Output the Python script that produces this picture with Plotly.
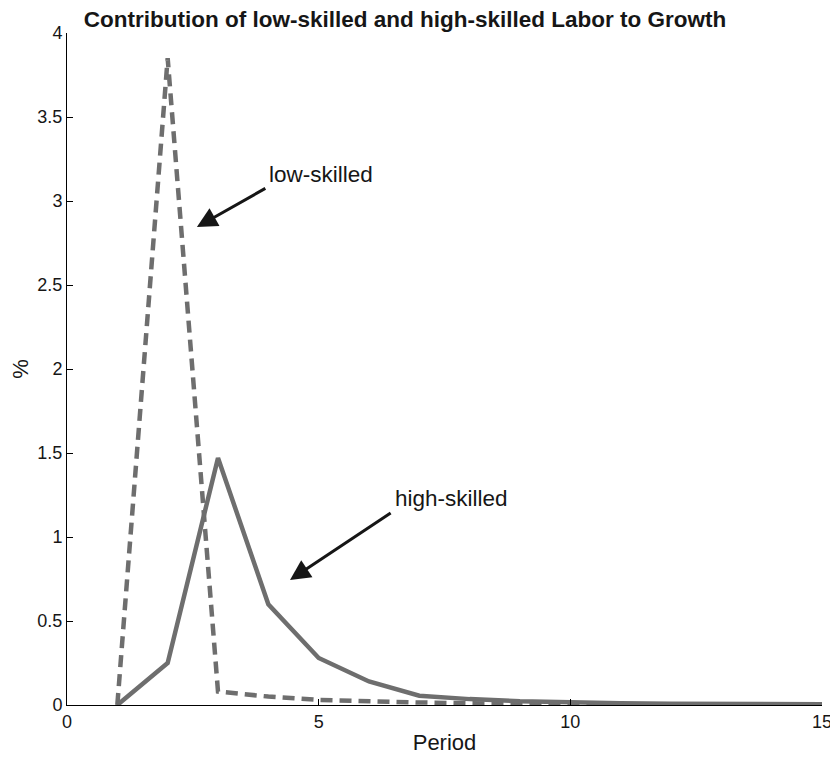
import plotly.graph_objects as go

period = list(range(1, 16))
low_skilled = [0.0, 3.85, 0.08, 0.05, 0.03, 0.02, 0.015, 0.01, 0.006, 0.004, 0.003, 0.002, 0.001, 0.001, 0.0]
high_skilled = [0.0, 0.25, 1.47, 0.60, 0.28, 0.14, 0.055, 0.035, 0.022, 0.015, 0.011, 0.008, 0.006, 0.005, 0.004]

x_ticks = [0, 5, 10, 15]
y_ticks = [0, 0.5, 1, 1.5, 2, 2.5, 3, 3.5, 4]
y_tick_labels = ["0", "0.5", "1", "1.5", "2", "2.5", "3", "3.5", "4"]

title = "Contribution of low-skilled and high-skilled Labor to Growth"
FONT = "Liberation Sans, Arial, sans-serif"
GRAY = "#6e6e6e"
INK = "#161616"

# the page body adds an 8px margin, so the figure is sized 8px smaller
W, H = 830, 749

fig = go.Figure()
fig.add_trace(go.Scatter(x=period, y=low_skilled, mode="lines",
                         line=dict(color=GRAY, width=4.5, dash="12px,7px"), name="low-skilled"))
fig.add_trace(go.Scatter(x=period, y=high_skilled, mode="lines",
                         line=dict(color=GRAY, width=4.5), name="high-skilled"))

fig.add_annotation(x=2.58, y=2.845, ax=3.97, ay=3.08, xref="x", yref="y", axref="x", ayref="y",
                   text="", showarrow=True, arrowhead=2, arrowsize=1.35, arrowwidth=3, arrowcolor=INK)
fig.add_annotation(x=3.98, y=3.16, xref="x", yref="y", text="low-skilled", showarrow=False,
                   xanchor="left", yanchor="middle", font=dict(family=FONT, size=22.5, color=INK))
fig.add_annotation(x=4.43, y=0.744, ax=6.46, ay=1.149, xref="x", yref="y", axref="x", ayref="y",
                   text="", showarrow=True, arrowhead=2, arrowsize=1.35, arrowwidth=3, arrowcolor=INK)
fig.add_annotation(x=6.47, y=1.232, xref="x", yref="y", text="high-skilled", showarrow=False,
                   xanchor="left", yanchor="middle", font=dict(family=FONT, size=22.5, color=INK))

fig.update_layout(
    width=W, height=H,
    margin=dict(l=59, r=16, t=25, b=52),
    paper_bgcolor="white", plot_bgcolor="white",
    showlegend=False,
    font=dict(family=FONT, size=18, color=INK),
    title=dict(text="<b>" + title + "</b>", x=397 / W, xanchor="center", y=1 - 11 / H, yanchor="middle",
               font=dict(family=FONT, size=22.5, color=INK)),
)
fig.update_xaxes(range=[0, 15], tickvals=x_ticks, ticks="inside", ticklen=6, tickcolor="black",
                 showline=True, linecolor="black", linewidth=1, showgrid=False, zeroline=False,
                 automargin=False,
                 title=dict(text="Period", standoff=4, font=dict(size=22)))
fig.update_yaxes(range=[0, 4], tickvals=y_ticks, ticktext=y_tick_labels, ticks="inside", ticklen=6,
                 tickcolor="black", showline=True, linecolor="black", linewidth=1, showgrid=False,
                 zeroline=False, automargin=False,
                 title=dict(text="%", standoff=7, font=dict(size=22)))

fig.write_html("out.html")
